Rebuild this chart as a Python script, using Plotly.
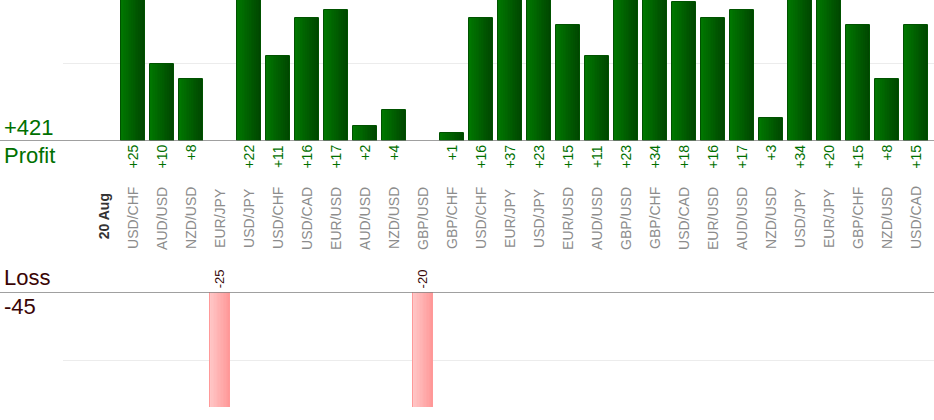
import plotly.graph_objects as go

# trade results by pair, first slot is the day separator
pairs = ["20 Aug", "USD/CHF", "AUD/USD", "NZD/USD", "EUR/JPY", "USD/JPY", "USD/CHF",
         "USD/CAD", "EUR/USD", "AUD/USD", "NZD/USD", "GBP/USD", "GBP/CHF", "USD/CHF",
         "EUR/JPY", "USD/JPY", "EUR/USD", "AUD/USD", "GBP/USD", "GBP/CHF", "USD/CAD",
         "EUR/USD", "AUD/USD", "NZD/USD", "USD/JPY", "EUR/JPY", "GBP/CHF", "NZD/USD",
         "USD/CAD"]
profit = [None, 25, 10, 8, None, 22, 11, 16, 17, 2, 4, None, 1, 16, 37, 23, 15, 11,
          23, 34, 18, 16, 17, 3, 34, 20, 15, 8, 15]
loss = [None, None, None, None, -25, None, None, None, None, None, None, -20, None,
        None, None, None, None, None, None, None, None, None, None, None, None, None,
        None, None, None]

total_profit = sum(v for v in profit if v)
total_loss = sum(v for v in loss if v)
xs = list(range(len(pairs)))


def blend(c1, c2, t):
    return "rgb(%d,%d,%d)" % tuple(round(a + (b - a) * t) for a, b in zip(c1, c2))


fig = go.Figure()

# fake horizontal gradient: stacked slices, each one covers to the right edge
def gradient_bars(vals, width, left, right, edge, yaxis, n=14):
    for i in range(n):
        w = width * (n - i) / n
        fig.add_trace(go.Bar(
            x=xs, y=vals, width=w, offset=width / 2 - w, yaxis=yaxis,
            marker=dict(color=blend(left, right, i / (n - 1)), line=dict(width=0)),
            hoverinfo="skip", showlegend=False))
    fig.add_trace(go.Bar(
        x=xs, y=vals, width=width, yaxis=yaxis,
        marker=dict(color="rgba(0,0,0,0)", line=dict(color=edge, width=1)),
        hoverinfo="skip", showlegend=False))


gradient_bars(profit, 0.83, (0, 118, 0), (0, 70, 0), "#005200", "y")
gradient_bars(loss, 0.69, (255, 198, 198), (255, 152, 152), "#ff9999", "y2")

ann = []
for i, name in enumerate(pairs):
    if i == 0:
        ann.append(dict(x=i, y=0.485, text="<b>" + name + "</b>",
                        font=dict(size=14, color="#333333")))
    else:
        ann.append(dict(x=i, y=0.481, text=name, font=dict(size=14, color="#8c8c8c")))
    if profit[i]:
        ann.append(dict(x=i, y=0.658, text="+%d" % profit[i], yanchor="top",
                        font=dict(size=14, color="#007000")))
    if loss[i]:
        ann.append(dict(x=i, y=0.312, text="%d" % loss[i], yanchor="bottom",
                        font=dict(size=13, color="#3a0a0a")))
for a in ann:
    a.update(xref="x", yref="paper", textangle=-90, showarrow=False, borderpad=0)

big = dict(xref="paper", yref="paper", x=0.003, xanchor="left", showarrow=False,
           borderpad=0)
ann += [
    dict(big, y=1 - 141 / 420, yanchor="bottom", text="+%d" % total_profit,
         font=dict(size=22, color="#007000")),
    dict(big, y=1 - 142 / 420, yanchor="top", text="Profit",
         font=dict(size=22, color="#007000")),
    dict(big, y=1 - 291 / 420, yanchor="bottom", text="Loss",
         font=dict(size=22, color="#3a0505")),
    dict(big, y=1 - 293 / 420, yanchor="top", text="%d" % total_loss,
         font=dict(size=22, color="#3a0505")),
]

fig.update_layout(
    width=934, height=420, margin=dict(l=0, r=0, t=0, b=0),
    paper_bgcolor="white", plot_bgcolor="white",
    barmode="overlay", bargap=0,
    font=dict(family="Liberation Sans, Arial, sans-serif"),
    xaxis=dict(domain=[63 / 934, 1], range=[-1.41, 28.62], showgrid=False,
               zeroline=False, showticklabels=False, ticks="", fixedrange=True),
    yaxis=dict(domain=[1 - 141 / 420, 1], range=[0, 18.3], tickvals=[10],
               showticklabels=False, gridcolor="#ececec", zeroline=False),
    yaxis2=dict(domain=[1 - 407 / 420, 1 - 292 / 420], range=[-16.67, 0],
                tickvals=[-10], showticklabels=False, gridcolor="#ececec",
                zeroline=False, anchor="x"),
    annotations=ann,
    shapes=[
        dict(type="line", xref="paper", x0=0, x1=1, yref="y", y0=0, y1=0,
             line=dict(color="#808080", width=1.5)),
        dict(type="line", xref="paper", x0=0, x1=1, yref="y2", y0=0, y1=0,
             line=dict(color="#808080", width=1.5)),
    ],
)

# page body has an 8px default margin, drop it so the chart sits at 0,0
fig.write_html("out.html", config={"displayModeBar": False},
               post_script="document.body.style.margin='0';")
